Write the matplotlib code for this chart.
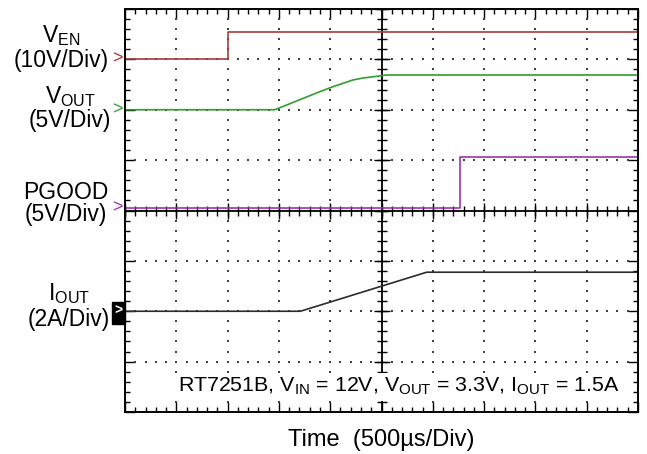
import numpy as np
import matplotlib
matplotlib.use("Agg")
import matplotlib.pyplot as plt
from matplotlib.patches import Rectangle
from matplotlib.transforms import blended_transform_factory

plt.rcParams["font.family"] = ["Liberation Sans", "DejaVu Sans"]
plt.rcParams["mathtext.fontset"] = "custom"
plt.rcParams["mathtext.rm"] = "Liberation Sans"
plt.rcParams["mathtext.it"] = "Liberation Sans:italic"
plt.rcParams["mathtext.bf"] = "Liberation Sans:bold"

# Scope traces (time in us, value in V or A)
ven_t = [0, 1000, 1000, 5000]
ven_v = [0, 0, 5.4, 5.4]
vout_t = [0, 1460, 1900, 2030, 2220, 2320, 2440, 2550, 5000]
vout_v = [0, 0, 1.8, 2.3, 2.95, 3.15, 3.3, 3.45, 3.45]
pgood_t = [0, 3265, 3265, 5000]
pgood_v = [0, 0, 5.05, 5.05]
iout_t = [0, 1710, 2940, 5000]
iout_v = [0, 0, 1.55, 1.55]

# channel settings: volts (amps) per division, ground level in divisions
time_per_div = 500
ven_scale, ven_gnd = 10, 7.0
vout_scale, vout_gnd = 5, 6.0
pgood_scale, pgood_gnd = 5, 4.05
iout_scale, iout_gnd = 2, 2.0

W, H = 647, 454
fig = plt.figure(figsize=(W / 100, H / 100), dpi=100)
ax = fig.add_axes([125 / W, 42 / H, 513 / W, 403 / H])
ax.set_xlim(0, 10)
ax.set_ylim(0, 8)

# graticule dots
minor = np.arange(0, 10.01, 0.2)
minor_y = np.arange(0, 8.01, 0.2)
for gx in [1, 2, 3, 4, 6, 7, 8, 9]:
    ax.plot([gx] * len(minor_y), minor_y, ls="none", marker="s", ms=1.5, color="#404040", mew=0)
for gy in [1, 2, 3, 5, 6, 7]:
    ax.plot(minor, [gy] * len(minor), ls="none", marker="s", ms=1.5, color="#404040", mew=0)

# center cross with ticks
ax.axvline(5, color="black", lw=1.3)
ax.axhline(4, color="black", lw=1.3)
ax.plot([5] * len(minor_y), minor_y, ls="none", marker="_", ms=6.5, mew=1.0, color="black")
ax.plot(minor, [4] * len(minor), ls="none", marker="|", ms=6.5, mew=1.0, color="black")
ax.plot([5] * 9, np.arange(9), ls="none", marker="_", ms=12, mew=1.0, color="black")
ax.plot(np.arange(11), [4] * 11, ls="none", marker="|", ms=12, mew=1.0, color="black")

# frame ticks
ax.set_xticks(np.arange(11))
ax.set_yticks(np.arange(9))
ax.set_xticks(minor, minor=True)
ax.set_yticks(minor_y, minor=True)
ax.tick_params(which="both", direction="in", top=True, right=True,
               labelbottom=False, labelleft=False, width=1.0, color="black")
ax.tick_params(which="major", length=7)
ax.tick_params(which="minor", length=3.5)
for s in ax.spines.values():
    s.set_linewidth(1.4)

# traces
t = lambda ts: np.array(ts) / time_per_div
ax.plot(t(ven_t), ven_gnd + np.array(ven_v) / ven_scale, color="#a83a3a", lw=1.2)
ax.plot(t(vout_t), vout_gnd + np.array(vout_v) / vout_scale, color="#2e9e2e", lw=1.2)
ax.plot(t(pgood_t), pgood_gnd + np.array(pgood_v) / pgood_scale, color="#9b35a5", lw=1.2)
ax.plot(t(iout_t), iout_gnd + np.array(iout_v) / iout_scale, color="#2b2b2b", lw=1.2)

# ground markers
bt = blended_transform_factory(ax.transAxes, ax.transData)
for gnd, col in [(ven_gnd, "#a83a3a"), (vout_gnd, "#2e9e2e"), (pgood_gnd, "#9b35a5")]:
    ax.text(-0.014, gnd, ">", color=col, fontsize=13, ha="center", va="center",
            transform=bt, clip_on=False)
ax.add_patch(Rectangle((-0.025, iout_gnd - 0.25), 0.025, 0.44, transform=bt,
                       color="black", clip_on=False))
ax.text(-0.013, iout_gnd, ">", color="white", fontsize=10, fontweight="bold",
        ha="center", va="center", transform=bt, clip_on=False)

# channel labels
fs = 16.5
def ftext(x, y, s, **kw):
    return fig.text(x / W, 1 - y / H, s, **kw)

ftext(61, 42, r"V$_{\mathrm{EN}}$", fontsize=fs, ha="center", va="baseline")
ftext(61, 67, "(10V/Div)", fontsize=fs, ha="center", va="baseline")
ftext(70, 103, r"V$_{\mathrm{OUT}}$", fontsize=fs, ha="center", va="baseline")
ftext(70, 127, "(5V/Div)", fontsize=fs, ha="center", va="baseline")
ftext(66, 199, "PGOOD", fontsize=fs, ha="center", va="baseline")
ftext(66, 221, "(5V/Div)", fontsize=fs, ha="center", va="baseline")
ftext(69, 300, r"I$_{\mathrm{OUT}}$", fontsize=fs, ha="center", va="baseline")
ftext(69, 326, "(2A/Div)", fontsize=fs, ha="center", va="baseline")

ftext(178, 392, r"RT7251B, V$_{\mathrm{IN}}$ = 12V, V$_{\mathrm{OUT}}$ = 3.3V, I$_{\mathrm{OUT}}$ = 1.5A",
      fontsize=15.4, ha="left", va="baseline",
      bbox=dict(boxstyle="square,pad=0.15", fc="white", ec="none"))
ftext(381, 446, "Time  (500µs/Div)", fontsize=17, ha="center", va="baseline")

fig.savefig("out.png", dpi=100)
